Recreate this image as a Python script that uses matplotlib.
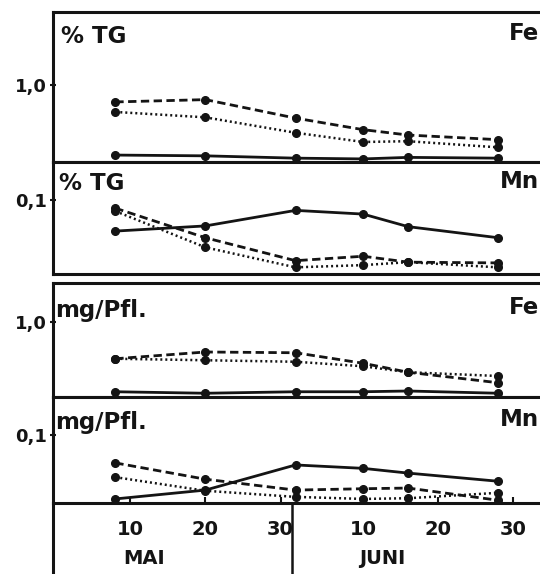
import numpy as np
import matplotlib
matplotlib.use("Agg")
from matplotlib import pyplot as plt
import matplotlib.transforms as mtransforms

# sampling days (1 = 1 May)
days = [8, 20, 32, 41, 47, 59]

# Fe, % TG
fe_tg_solid = [0.09, 0.08, 0.05, 0.04, 0.06, 0.05]
fe_tg_dashed = [0.78, 0.81, 0.57, 0.42, 0.35, 0.29]
fe_tg_dotted = [0.65, 0.58, 0.38, 0.26, 0.27, 0.19]

# Mn, % TG
mn_tg_solid = [0.058, 0.065, 0.086, 0.081, 0.064, 0.049]
mn_tg_dashed = [0.089, 0.049, 0.018, 0.024, 0.016, 0.015]
mn_tg_dotted = [0.085, 0.036, 0.009, 0.012, 0.016, 0.009]

# Fe, mg/Pfl.
fe_pf_solid = [0.07, 0.05, 0.07, 0.07, 0.08, 0.05]
fe_pf_dashed = [0.51, 0.60, 0.59, 0.45, 0.33, 0.19]
fe_pf_dotted = [0.51, 0.49, 0.47, 0.41, 0.33, 0.28]

# Mn, mg/Pfl.
mn_pf_solid = [0.006, 0.019, 0.056, 0.051, 0.044, 0.032]
mn_pf_dashed = [0.059, 0.035, 0.019, 0.021, 0.022, 0.004]
mn_pf_dotted = [0.038, 0.018, 0.009, 0.006, 0.007, 0.015]

xtick_pos = [10, 20, 30, 41, 51, 61]
xtick_lab = ['10', '20', '30', '10', '20', '30']

panels = [
    # (ymax, tick, ticklabel, left text, right text, solid, dashed, dotted)
    (1.948, 1.0, '1,0', '% TG', 'Fe', fe_tg_solid, fe_tg_dashed, fe_tg_dotted),
    (0.1514, 0.1, '0,1', '% TG', 'Mn', mn_tg_solid, mn_tg_dashed, mn_tg_dotted),
    (1.52, 1.0, '1,0', 'mg/Pfl.', 'Fe', fe_pf_solid, fe_pf_dashed, fe_pf_dotted),
    (0.156, 0.1, '0,1', 'mg/Pfl.', 'Mn', mn_pf_solid, mn_pf_dashed, mn_pf_dotted),
]
# panel boxes in pixels (top, bottom), label baselines / x positions
boxes = [(12, 162), (162, 274), (283, 397), (397, 503)]
lbl_base = [43, 190, 317, 429]
lbl_x = [61, 59, 55, 55]
rlbl_y = [34, 181, 308, 420]

W, H = 540, 574
fig = plt.figure(figsize=(W / 100, H / 100), dpi=100)
plt.rcParams['font.family'] = 'DejaVu Sans'
ink = '#141414'
left = 53 / W

axes = []
for i, ((top, bot), p) in enumerate(zip(boxes, panels)):
    ymax, tick, tlab, ltxt, rtxt, s, d, o = p
    ax = fig.add_axes([left, 1 - bot / H, 1.02 - left, (bot - top) / H])
    ax.set_xlim(-0.3, 66)
    ax.set_ylim(0, ymax)
    for sp in ['top', 'bottom', 'left']:
        ax.spines[sp].set_linewidth(2.2)
        ax.spines[sp].set_color(ink)
    ax.spines['right'].set_visible(False)
    ax.set_yticks([tick])
    ax.set_yticklabels([tlab], fontsize=13, fontweight='bold')
    ax.tick_params(axis='y', direction='inout', length=5, width=1.5, pad=2, colors=ink)
    ax.set_xticks([])
    ax.plot(days, s, '-', color=ink, lw=2.0, marker='o', ms=5.5, clip_on=False)
    ax.plot(days, d, '--', color=ink, lw=2.0, dashes=(3, 1.6), marker='o', ms=5.5, clip_on=False)
    ax.plot(days, o, ':', color=ink, lw=1.8, dashes=(0.8, 1.2), marker='o', ms=5.5, clip_on=False)
    fig.text(lbl_x[i] / W, 1 - lbl_base[i] / H, ltxt, ha='left', va='baseline',
             fontsize=16.5, fontweight='bold', color=ink)
    fig.text(539 / W, 1 - rlbl_y[i] / H, rtxt, ha='right', va='center',
             fontsize=16.5, fontweight='bold', color=ink)
    axes.append(ax)

ax4 = axes[-1]
ax4.set_xticks(xtick_pos)
ax4.set_xticklabels(xtick_lab, fontsize=14, fontweight='bold')
ax4.tick_params(axis='x', direction='in', length=4, width=1.5, pad=12, colors=ink)

trans = mtransforms.blended_transform_factory(ax4.transData, ax4.transAxes)
# month separator and left line continuing below the axis
ax4.plot([31.5, 31.5], [0, -0.7], transform=trans, color=ink, lw=1.8, clip_on=False)
ax4.plot([-0.3, -0.3], [0, -0.7], transform=trans, color=ink, lw=2.2, clip_on=False)
ax4.text(11.8, -0.52, 'MAI', transform=trans, ha='center', va='center', fontsize=14,
         fontweight='bold', color=ink)
ax4.text(43.5, -0.52, 'JUNI', transform=trans, ha='center', va='center', fontsize=14,
         fontweight='bold', color=ink)

fig.savefig('out.png', dpi=100)
